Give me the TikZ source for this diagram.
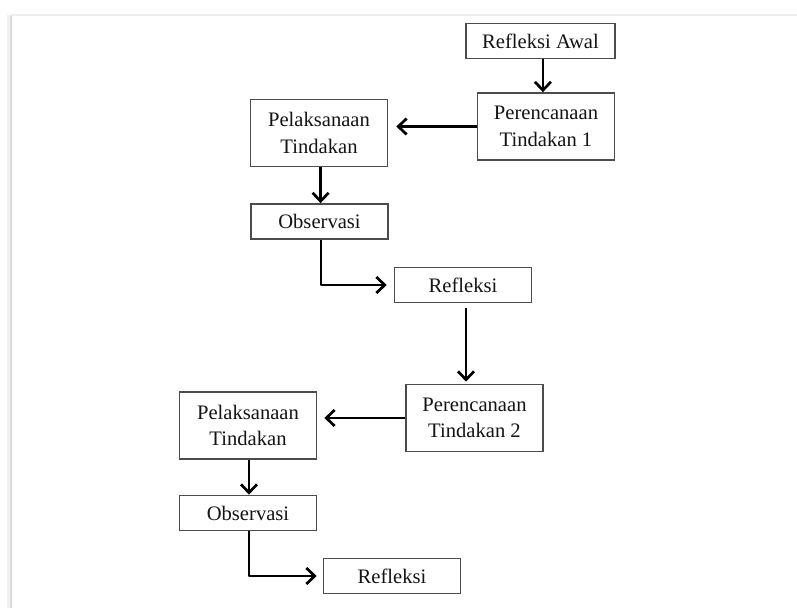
\documentclass[tikz,border=0pt]{standalone}
\usepackage{fontspec}
\setmainfont{Liberation Serif}
\usetikzlibrary{arrows.meta}

\begin{document}
\begin{tikzpicture}[%
        x = 0.5pt, y = -0.5pt,
        kotak/.style = {draw=black!70, line width=0.8pt, fill=white,
            minimum width=68.5pt, align=center, inner sep=0pt,
            text=black!92, font=\fontsize{10.3}{13.2}\selectfont},
        kotak1/.style = {kotak, minimum height=17.5pt},
        kotak2/.style = {kotak, minimum height=33.5pt},
        panah/.style = {line width=1.35pt, line join=round,
            -{Straight Barb[length=4.2pt,width=8pt,line width=1.35pt]}}
    ]
      \useasboundingbox (0,0) rectangle (797,608);
      % bayangan halaman
      \draw[black!6, line width=2.5pt] (9,608) -- (9,15);
      \draw[black!14, line width=1pt] (11,608) -- (11,15);
      \draw[black!7, line width=1.2pt] (11,15) -- (797,15);
      % siklus 1
      \node[kotak1, minimum width=74.5pt] (awal) at (540.5,41) {Refleksi Awal};
      \node[kotak2] (rencana1) at (546,126.5) {Perencanaan\\Tindakan 1};
      \node[kotak2] (laksana1) at (319,133) {Pelaksanaan\\Tindakan};
      \node[kotak1] (obs1) at (319.5,221.5) {Observasi};
      \node[kotak1] (refl1) at (463,285) {Refleksi};
      % siklus 2
      \node[kotak2] (rencana2) at (474.5,418) {Perencanaan\\Tindakan 2};
      \node[kotak2] (laksana2) at (248,425.5) {Pelaksanaan\\Tindakan};
      \node[kotak1] (obs2) at (248,513) {Observasi};
      \node[kotak1] (refl2) at (392,576) {Refleksi};
      % panah
      \draw[panah] ([xshift=1.2pt]awal.south) -- ([xshift=1.2pt]awal.south |- rencana1.north);
      \draw[panah, shorten >=4pt] (rencana1.west) -- (rencana1.west -| laksana1.east);
      \draw[panah] ([xshift=0.8pt]laksana1.south) -- ([xshift=0.8pt]laksana1.south |- obs1.north);
      \draw[panah, shorten >=3.5pt] ([xshift=0.8pt]obs1.south) |- (refl1.west);
      \draw[panah, shorten <=2.5pt, shorten >=1pt] ([xshift=1.5pt]refl1.south) -- ([xshift=1.5pt]refl1.south |- rencana2.north);
      \draw[panah, shorten >=3.5pt] (rencana2.west) -- (rencana2.west -| laksana2.east);
      \draw[panah] ([xshift=0.5pt]laksana2.south) -- ([xshift=0.5pt]laksana2.south |- obs2.north);
      \draw[panah, shorten >=3pt] ([xshift=0.5pt]obs2.south) |- (refl2.west);
    \end{tikzpicture}
\end{document}
